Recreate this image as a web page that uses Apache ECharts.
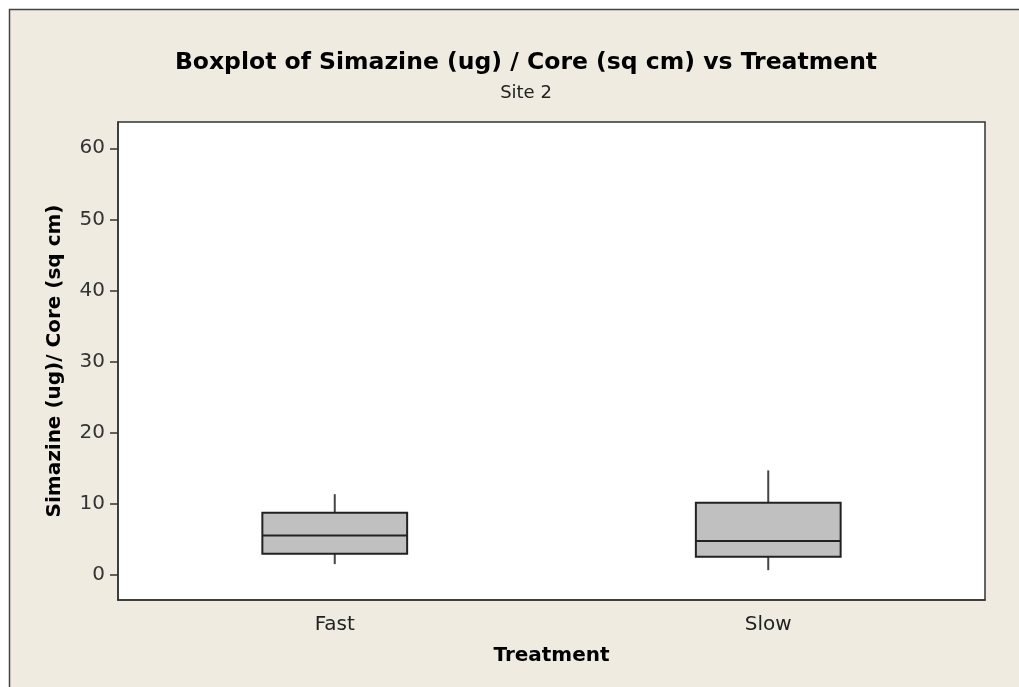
<!DOCTYPE html>
<html>
<head>
<meta charset="utf-8">
<script src="https://cdn.jsdelivr.net/npm/echarts@6/dist/echarts.min.js"></script>
<style>
  html, body { margin: 0; padding: 0; background: #fff; }
  #main { width: 1019px; height: 687px; }
</style>
</head>
<body>
<div id="main"></div>
<script>
// categories and box statistics
var categories = ['Fast', 'Slow'];
var whiskerLow = [1.45, 0.6];
var q1 = [2.9, 2.48];
var median = [5.49, 4.69];
var q3 = [8.68, 10.08];
var whiskerHigh = [11.3, 14.65];
var yTicks = [0, 10, 20, 30, 40, 50, 60];

var boxData = [];
for (var i = 0; i < categories.length; i++) {
	boxData.push([i, whiskerLow[i], q1[i], median[i], q3[i], whiskerHigh[i]]);
}

var chart = echarts.init(document.getElementById('main'));
var font = 'DejaVu Sans';

// draw box without whisker caps (as in Minitab)
function renderBox(params, api) {
	var idx = api.value(0);
	var band = api.size([1, 0])[0];
	var half = band * 0.167;
	var pLow = api.coord([idx, api.value(1)]);
	var pQ1 = api.coord([idx, api.value(2)]);
	var pMed = api.coord([idx, api.value(3)]);
	var pQ3 = api.coord([idx, api.value(4)]);
	var pHigh = api.coord([idx, api.value(5)]);
	var cx = pQ1[0];
	return {
		type: 'group',
		children: [{
			type: 'line',
			shape: { x1: cx, y1: pHigh[1], x2: cx, y2: pQ3[1] },
			style: { stroke: '#444', lineWidth: 2 }
		}, {
			type: 'line',
			shape: { x1: cx, y1: pQ1[1], x2: cx, y2: pLow[1] },
			style: { stroke: '#444', lineWidth: 2 }
		}, {
			type: 'rect',
			shape: { x: cx - half, y: pQ3[1], width: half * 2, height: pQ1[1] - pQ3[1] },
			style: { fill: '#c0c0c0', stroke: '#222', lineWidth: 2 }
		}, {
			type: 'line',
			shape: { x1: cx - half, y1: pMed[1], x2: cx + half, y2: pMed[1] },
			style: { stroke: '#222', lineWidth: 2 }
		}]
	};
}

var option = {
	backgroundColor: '#fff',
	animation: false,
	graphic: [{
		type: 'rect',
		z: -100,
		silent: true,
		shape: { x: 9.5, y: 9.5, width: 1100, height: 800 },
		style: { fill: '#efebe1', stroke: '#444', lineWidth: 1.5 }
	}],
	title: {
		text: 'Boxplot of Simazine (ug) / Core (sq cm) vs Treatment',
		subtext: 'Site 2',
		left: 521,
		textAlign: 'center',
		top: 46,
		itemGap: 9,
		textStyle: { fontFamily: font, fontSize: 23.5, fontWeight: 'bold', color: '#000' },
		subtextStyle: { fontFamily: font, fontSize: 18, color: '#222' }
	},
	grid: {
		left: 118,
		top: 122,
		right: 34,
		bottom: 87,
		show: true,
		backgroundColor: '#fff',
		borderColor: '#333',
		borderWidth: 1.5
	},
	xAxis: {
		type: 'category',
		data: categories,
		name: 'Treatment',
		nameLocation: 'middle',
		nameGap: 46,
		nameTextStyle: { fontFamily: font, fontSize: 20, fontWeight: 'bold', color: '#000' },
		axisLine: { onZero: false, lineStyle: { color: '#333', width: 1.5 } },
		axisTick: { alignWithLabel: true, length: 8, lineStyle: { color: '#333', width: 1.5 } },
		axisLabel: { fontFamily: font, fontSize: 20, color: '#222', margin: 15 },
		splitLine: { show: false }
	},
	yAxis: {
		type: 'value',
		min: -3.6,
		max: 63.7,
		name: 'Simazine (ug)/ Core (sq cm)',
		nameLocation: 'middle',
		nameGap: 53,
		nameTextStyle: { fontFamily: font, fontSize: 20, fontWeight: 'bold', color: '#000' },
		axisLine: { show: true, onZero: false, lineStyle: { color: '#333', width: 1.5 } },
		axisTick: { show: true, length: 8, customValues: yTicks, lineStyle: { color: '#333', width: 1.5 } },
		axisLabel: { fontFamily: font, fontSize: 20, color: '#333', margin: 13, customValues: yTicks },
		splitLine: { show: false }
	},
	series: [{
		type: 'custom',
		renderItem: renderBox,
		encode: { x: 0, y: [1, 2, 3, 4, 5] },
		data: boxData
	}]
};
chart.setOption(option);
</script>
</body>
</html>
